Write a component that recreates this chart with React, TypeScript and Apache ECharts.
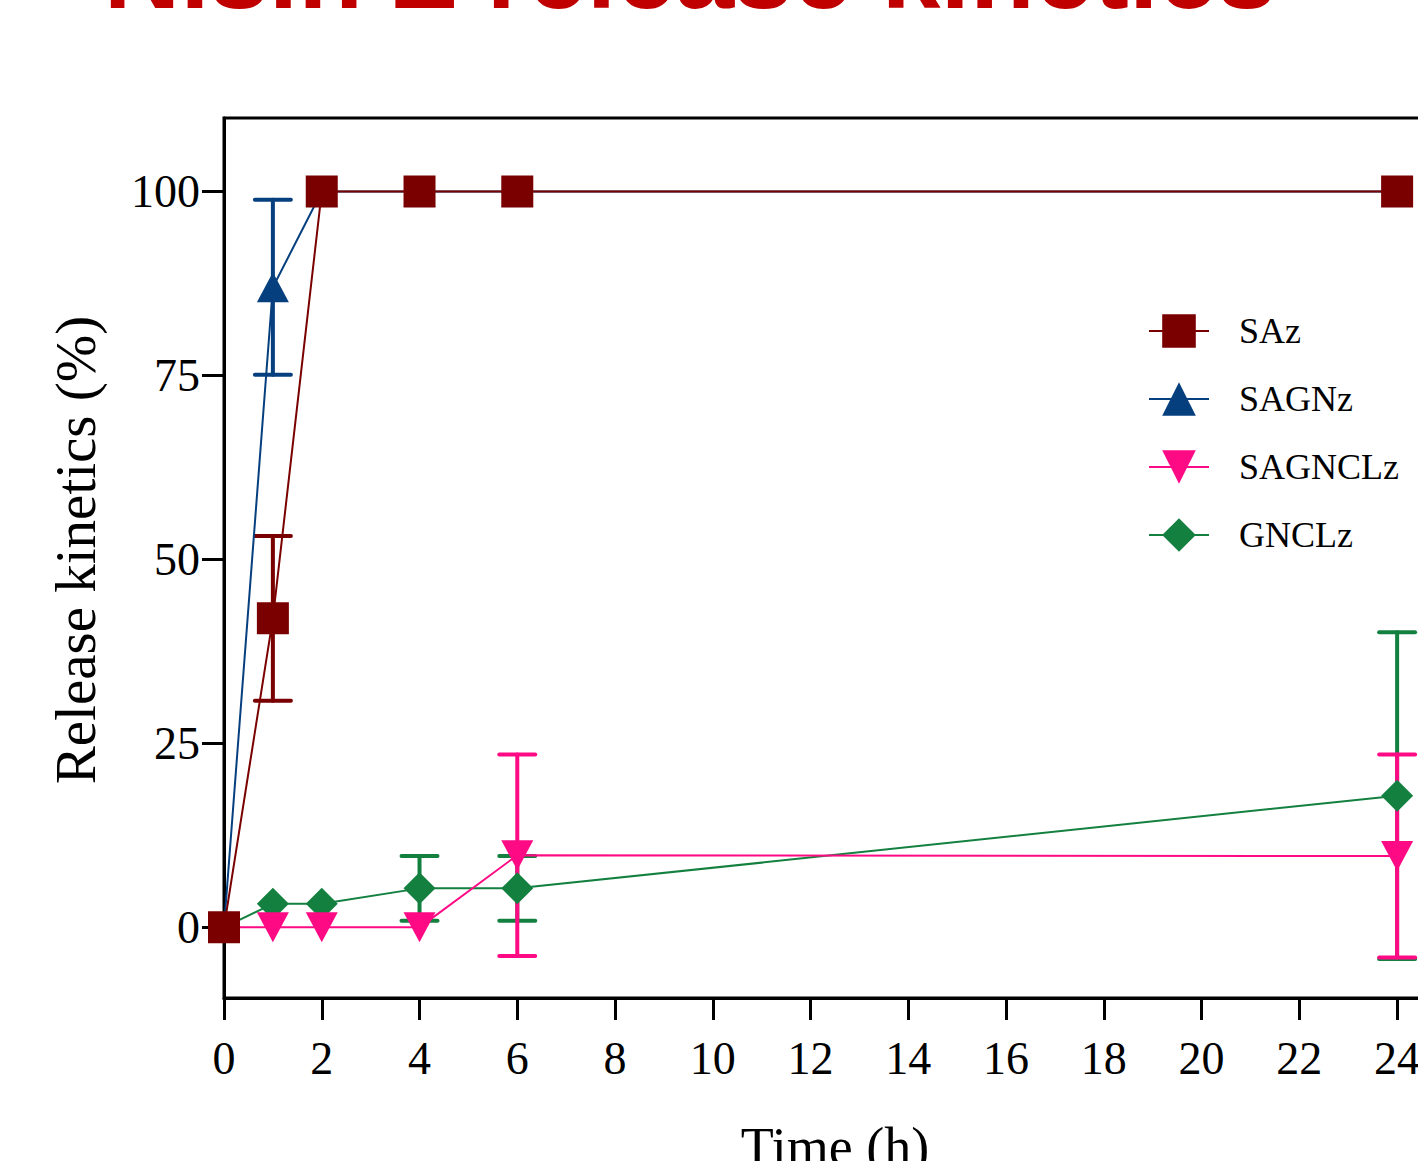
import React, { useEffect, useRef } from "react";
import * as echarts from "echarts";

const times = [0, 1, 2, 4, 6, 24];
const xTicks = [0, 2, 4, 6, 8, 10, 12, 14, 16, 18, 20, 22, 24];
const yTicks = [0, 25, 50, 75, 100];

const seriesNames = ["SAz", "SAGNz", "SAGNCLz", "GNCLz"];
const sazValues = [0, 42, 100, 100, 100, 100];
const sazErr = [0, 11.2, 0, 0, 0, 0];
const sagnzValues = [0, 87, 100, 100, 100, 100];
const sagnzErr = [0, 11.9, 0, 0, 0, 0];
const sagnclzValues = [0, 0, 0, 0, 9.8, 9.7];
const sagnclzErr = [0, 0, 0, 0, 13.7, 13.8];
const gnclzValues = [0, 3.2, 3.2, 5.3, 5.3, 17.9];
const gnclzErr = [0, 0, 0, 4.4, 4.4, 22.2];

const titleText = "Nisin Z release kinetics";
const xTitle = "Time (h)";
const yTitle = "Release kinetics (%)";

const OFFSET_Y = 60;
const SERIF = "'Liberation Serif', 'Times New Roman', serif";

function errSeries(values: number[], errs: number[], color: string) {
  const data = times
    .map((t, i) => [t, values[i], errs[i]])
    .filter((d) => d[2] > 0);
  return {
    type: "custom",
    silent: true,
    data,
    encode: { x: 0, y: 1 },
    renderItem: (_params: any, api: any) => {
      const x = api.value(0);
      const y = api.value(1);
      const e = api.value(2);
      const top = api.coord([x, y + e]);
      const bot = api.coord([x, y - e]);
      const hw = 18;
      const style = { stroke: color, lineWidth: 4, lineCap: "round" };
      return {
        type: "group",
        children: [
          { type: "line", shape: { x1: top[0], y1: top[1], x2: bot[0], y2: bot[1] }, style },
          { type: "line", shape: { x1: top[0] - hw, y1: top[1], x2: top[0] + hw, y2: top[1] }, style },
          { type: "line", shape: { x1: bot[0] - hw, y1: bot[1], x2: bot[0] + hw, y2: bot[1] }, style },
        ],
      };
    },
  };
}

function lineSeries(
  name: string,
  values: number[],
  color: string,
  symbol: string,
  symbolSize: any,
  rotate = 0
) {
  return {
    type: "line",
    name,
    data: times.map((t, i) => [t, values[i]]),
    symbol,
    symbolSize,
    symbolRotate: rotate,
    showSymbol: true,
    lineStyle: { color, width: 2 },
    itemStyle: { color, opacity: 1 },
    emphasis: { disabled: true },
  };
}

export default function App() {
  const ref = useRef<HTMLDivElement>(null);
  useEffect(() => {
    if (!ref.current) return;
    const chart = echarts.init(ref.current, undefined, { renderer: "svg" });
    const red = "#7a0000";
    const blue = "#063f7e";
    const pink = "#ff0a85";
    const green = "#138040";
    chart.setOption({
      animation: false,
      backgroundColor: "#fff",
      grid: {
        left: 224,
        top: 178,
        right: 34,
        bottom: 203,
        show: true,
        borderColor: "#000",
        borderWidth: 3,
        backgroundColor: "transparent",
      },
      xAxis: {
        type: "value",
        min: 0,
        max: 25,
        axisLine: { show: true, onZero: false, lineStyle: { color: "#000", width: 3 } },
        axisTick: {
          show: true,
          length: 22,
          lineStyle: { color: "#000", width: 3 },
          customValues: xTicks,
        },
        axisLabel: {
          customValues: xTicks,
          color: "#000",
          fontFamily: SERIF,
          fontSize: 46,
          lineHeight: 46,
          margin: 37,
        },
        splitLine: { show: false },
      },
      yAxis: {
        type: "value",
        min: -9.6,
        max: 110,
        axisLine: { show: true, onZero: false, lineStyle: { color: "#000", width: 3 } },
        axisTick: {
          show: true,
          length: 22,
          lineStyle: { color: "#000", width: 3 },
          customValues: yTicks,
        },
        axisLabel: {
          customValues: yTicks,
          color: "#000",
          fontFamily: SERIF,
          fontSize: 46,
          margin: 24,
        },
        splitLine: { show: false },
      },
      legend: {
        data: seriesNames,
        orient: "vertical",
        left: 1143,
        top: 368,
        itemWidth: 60,
        itemHeight: 42,
        itemGap: 32,
        textStyle: {
          color: "#000",
          fontFamily: SERIF,
          fontSize: 36,
          padding: [0, 0, 0, 25],
        },
        selectedMode: false,
      },
      graphic: [
        {
          type: "text",
          x: 690,
          y: 31,
          style: {
            text: titleText,
            fill: "#c00000",
            font: "bold 106px 'Liberation Sans', Arial, sans-serif",
            align: "center",
            verticalAlign: "middle",
          },
        },
        {
          type: "text",
          x: 835,
          y: 1207,
          style: {
            text: xTitle,
            fill: "#000",
            font: "54px " + SERIF,
            align: "center",
            verticalAlign: "middle",
          },
        },
        {
          type: "text",
          x: 75,
          y: 550 + OFFSET_Y,
          rotation: Math.PI / 2,
          style: {
            text: yTitle,
            fill: "#000",
            font: "57px " + SERIF,
            align: "center",
            verticalAlign: "middle",
          },
        },
      ],
      series: [
        errSeries(gnclzValues, gnclzErr, green),
        lineSeries("GNCLz", gnclzValues, green, "diamond", 32),
        errSeries(sagnclzValues, sagnclzErr, pink),
        lineSeries("SAGNCLz", sagnclzValues, pink, "triangle", [32, 30], 180),
        errSeries(sagnzValues, sagnzErr, blue),
        lineSeries("SAGNz", sagnzValues, blue, "triangle", [32, 30]),
        errSeries(sazValues, sazErr, red),
        lineSeries("SAz", sazValues, red, "rect", 32),
      ],
    });
    return () => chart.dispose();
  }, []);
  return (
    <div
      style={{
        position: "fixed",
        left: 0,
        top: 0,
        width: 1418,
        height: 1161,
        overflow: "hidden",
        background: "#fff",
      }}
    >
      <div
        ref={ref}
        style={{ position: "absolute", left: 0, top: -OFFSET_Y, width: 1480, height: 1261 }}
      />
    </div>
  );
}
